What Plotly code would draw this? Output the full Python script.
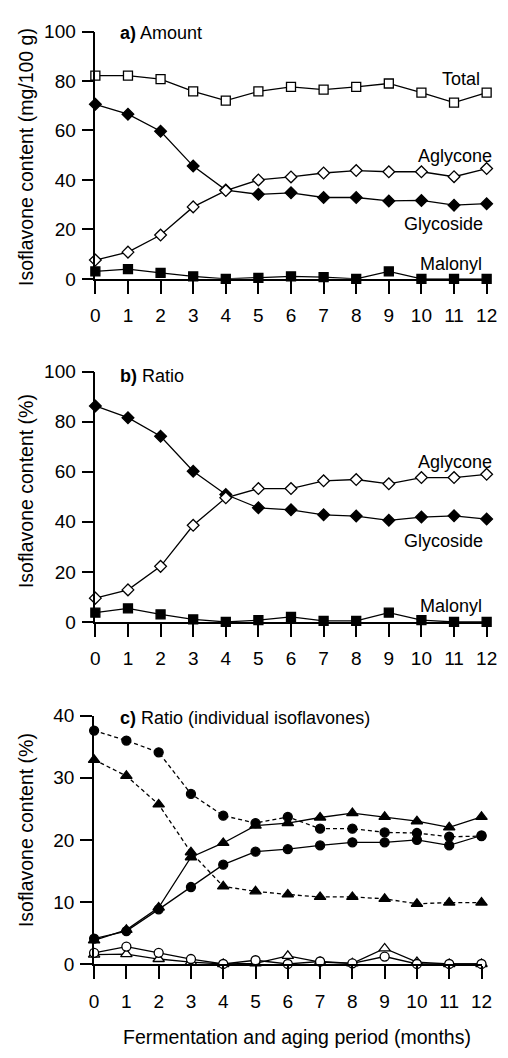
import plotly.graph_objects as go

months = list(range(13))
month_labels = [str(m) for m in months]

# Panel a: amount (mg/100 g)
a_total = [82.2, 82.2, 80.8, 75.8, 72.1, 75.8, 77.6, 76.5, 77.6, 79.0, 75.3, 71.3, 75.3]
a_glycoside = [70.6, 66.6, 59.7, 45.6, 35.9, 34.2, 34.8, 32.9, 32.9, 31.5, 31.7, 29.8, 30.4]
a_aglycone = [7.6, 10.8, 17.7, 29.1, 35.7, 40.0, 41.2, 42.8, 43.8, 43.3, 43.3, 41.3, 44.6]
a_malonyl = [3.0, 3.9, 2.4, 1.0, 0.0, 0.4, 1.0, 0.7, 0.0, 3.0, 0.0, 0.0, 0.0]

# Panel b: ratio (%)
b_glycoside = [86.3, 81.6, 74.2, 60.2, 50.9, 45.6, 44.8, 42.8, 42.3, 40.6, 41.9, 42.4, 41.1]
b_aglycone = [9.5, 12.8, 22.2, 38.6, 49.6, 53.3, 53.3, 56.4, 56.9, 55.2, 57.7, 57.7, 59.0]
b_malonyl = [3.7, 5.4, 3.0, 1.0, 0.0, 0.7, 2.0, 0.4, 0.4, 3.7, 0.7, 0.0, 0.0]

# Panel c: individual isoflavones ratio (%)
c_circle_dash = [37.6, 36.0, 34.1, 27.4, 23.9, 22.7, 23.7, 21.8, 21.8, 21.2, 21.1, 20.5, 20.6]
c_tri_dash = [32.9, 30.3, 25.7, 18.0, 12.5, 11.7, 11.2, 10.8, 10.8, 10.5, 9.7, 9.9, 9.9]
c_tri_solid = [3.8, 5.5, 9.1, 17.2, 19.5, 22.3, 22.7, 23.6, 24.3, 23.7, 23.0, 22.0, 23.7]
c_circle_solid = [4.1, 5.3, 8.8, 12.4, 16.0, 18.1, 18.5, 19.1, 19.6, 19.6, 20.0, 19.1, 20.7]
c_circle_open = [1.8, 2.8, 1.8, 0.8, 0.0, 0.6, 0.0, 0.4, 0.1, 1.2, 0.0, 0.0, 0.0]
c_tri_open = [1.5, 1.6, 0.8, 0.3, 0.0, 0.1, 1.3, 0.3, 0.1, 2.5, 0.3, 0.0, 0.0]

W, H = 508, 1058
FONT = "Liberation Sans, Arial, Helvetica, sans-serif"
FS = 18
TFS = 19
TITLE_FS = 19.5
BLACK = "#000000"

fig = go.Figure()


def add(x, y, sym, fill, xa, ya, dash="solid", size=9):
    fig.add_trace(go.Scatter(
        x=x, y=y, mode="lines+markers", xaxis=xa, yaxis=ya,
        line=dict(color=BLACK, width=1.3, dash=dash),
        marker=dict(symbol=sym, size=size, color=fill,
                    line=dict(color=BLACK, width=1.3)),
        cliponaxis=False, showlegend=False, hoverinfo="x+y"))


# panel a
add(months, a_total, "square", "white", "x", "y", size=9)
add(months, a_glycoside, "diamond", BLACK, "x", "y", size=9)
add(months, a_aglycone, "diamond", "white", "x", "y", size=9)
add(months, a_malonyl, "square", BLACK, "x", "y", size=9)
# panel b
add(months, b_glycoside, "diamond", BLACK, "x2", "y2", size=9)
add(months, b_aglycone, "diamond", "white", "x2", "y2", size=9)
add(months, b_malonyl, "square", BLACK, "x2", "y2", size=9)
# panel c
dash = "4px,3px"
add(months, c_circle_dash, "circle", BLACK, "x3", "y3", dash=dash, size=9)
add(months, c_tri_dash, "triangle-up", BLACK, "x3", "y3", dash=dash, size=10)
add(months, c_tri_solid, "triangle-up", BLACK, "x3", "y3", size=10)
add(months, c_circle_solid, "circle", BLACK, "x3", "y3", size=9)
add(months, c_tri_open, "triangle-up", "white", "x3", "y3", size=10)
add(months, c_circle_open, "circle", "white", "x3", "y3", size=9)


def px_x(p):
    return p / W


def px_y(p):
    return 1 - p / H


xax = dict(range=[0, 12], tickmode="array", tickvals=months, ticktext=month_labels,
           showline=True, linecolor=BLACK, linewidth=1.5,
           ticks="outside", ticklen=13, tickwidth=1.6, tickcolor=BLACK,
           ticklabelstandoff=6,
           showgrid=False, zeroline=False, ticklabeloverflow="allow",
           tickfont=dict(family=FONT, size=TFS, color=BLACK))
yax = dict(showline=True, linecolor=BLACK, linewidth=1.5,
           ticks="outside", ticklen=12, tickwidth=1.6, tickcolor=BLACK,
           ticklabelstandoff=2,
           showgrid=False, zeroline=False,
           tickfont=dict(family=FONT, size=TFS, color=BLACK))

fig.update_layout(
    width=W, height=H,
    margin=dict(l=0, r=0, t=0, b=0),
    paper_bgcolor="white", plot_bgcolor="white",
    font=dict(family=FONT, size=FS, color=BLACK),
    xaxis=dict(xax, domain=[px_x(93.3), px_x(497.3)], anchor="y"),
    yaxis=dict(yax, domain=[px_y(274.3), px_y(22)], range=[0, 100],
               tickmode="array", tickvals=[0, 20, 40, 60, 80, 100], anchor="x"),
    xaxis2=dict(xax, domain=[px_x(93.3), px_x(497.3)], anchor="y2"),
    yaxis2=dict(yax, domain=[px_y(624.3), px_y(369)], range=[0, 100],
                tickmode="array", tickvals=[0, 20, 40, 60, 80, 100], anchor="x2"),
    xaxis3=dict(xax, domain=[px_x(92), px_x(492)], anchor="y3",
                linewidth=2, tickwidth=2),
    yaxis3=dict(yax, domain=[px_y(973.3), px_y(720)], range=[0, 40],
                tickmode="array", tickvals=[0, 10, 20, 30, 40], anchor="x3",
                linewidth=2, tickwidth=2),
)

ann = []


def label(text, xp, yp, xanchor="right"):
    ann.append(dict(text=text, x=px_x(xp), y=px_y(yp), xref="paper", yref="paper",
                    xanchor=xanchor, yanchor="middle", showarrow=False,
                    font=dict(family=FONT, size=FS, color=BLACK)))


label("Total", 493, 70)
label("Aglycone", 505, 149)
label("Glycoside", 496, 218)
label("Malonyl", 495, 259)
label("<b>a)</b> Amount", 117, 23, xanchor="left")

label("Aglycone", 505, 461)
label("Glycoside", 496, 542)
label("Malonyl", 495, 608)
label("<b>b)</b> Ratio", 117, 373, xanchor="left")

label("<b>c)</b> Ratio (individual isoflavones)", 117, 722, xanchor="left")

for text, yc in [("Isoflavone content (mg/100 g)", 150),
                 ("Isoflavone content (%)", 490.8),
                 ("Isoflavone content (%)", 836.7)]:
    ann.append(dict(text=text, x=px_x(21.7), y=px_y(yc), xref="paper", yref="paper",
                    xanchor="center", yanchor="middle", textangle=-90, showarrow=False,
                    font=dict(family=FONT, size=TITLE_FS, color=BLACK)))

ann.append(dict(text="Fermentation and aging period (months)", x=px_x(302), y=px_y(1048),
                xref="paper", yref="paper", xanchor="center", yanchor="middle",
                showarrow=False, font=dict(family=FONT, size=TITLE_FS, color=BLACK)))

fig.update_layout(annotations=ann)

fig.write_html("out.html", config={"displayModeBar": False},
               post_script="document.body.style.margin='0';document.body.style.padding='0';")
